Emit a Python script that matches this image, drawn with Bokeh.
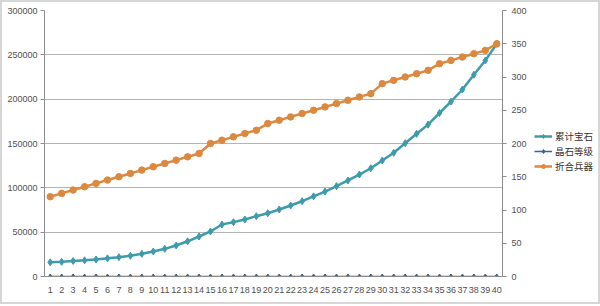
from bokeh.plotting import figure
from bokeh.models import (Range1d, LinearAxis, FixedTicker, NumeralTickFormatter,
                          Legend, LegendItem, ColumnDataSource)
from bokeh.layouts import row
from bokeh.embed import file_html
from bokeh.resources import INLINE

levels = [1, 2, 3, 4, 5, 6, 7, 8, 9, 10, 11, 12, 13, 14, 15, 16, 17, 18, 19, 20,
          21, 22, 23, 24, 25, 26, 27, 28, 29, 30, 31, 32, 33, 34, 35, 36, 37, 38, 39, 40]
gems_total = [16000, 16500, 17500, 18300, 19200, 20500, 21800, 23300, 25600, 28200,
              31200, 35000, 39700, 45100, 50800, 58600, 61300, 64300, 68000, 71400,
              75600, 80100, 84900, 90400, 95800, 101900, 108300, 115000, 122100, 130800,
              139500, 150300, 160900, 171300, 184400, 197200, 210900, 227500, 243600, 262400]
crystal_level = [1, 2, 3, 4, 5, 6, 7, 8, 9, 10, 11, 12, 13, 14, 15, 16, 17, 18, 19, 20,
                 21, 22, 23, 24, 25, 26, 27, 28, 29, 30, 31, 32, 33, 34, 35, 36, 37, 38, 39, 40]
weapons = [120, 125, 130, 135, 140, 145, 150, 155, 160, 165, 170, 175, 180, 185,
           200, 205, 210, 215, 220, 230, 235, 240, 245, 250, 255, 260, 265, 270, 275,
           290, 295, 300, 305, 310, 320, 325, 330, 335, 340, 350]
names = ["累计宝石", "晶石等级", "折合兵器"]
left_ticks = [0, 50000, 100000, 150000, 200000, 250000, 300000]
right_ticks = [0, 50, 100, 150, 200, 250, 300, 350, 400]

src = ColumnDataSource(dict(x=levels, g=gems_total, c=crystal_level, w=weapons))

TEAL = "#3e9bab"
NAVY = "#3a6494"
ORANGE = "#dc893f"
TXT = "#505050"
GRID = "#b4b4b4"
AX = "#8c8c8c"
NUMFONT = "Liberation Sans"
H = 300

p = figure(width=528, height=H, output_backend="svg", toolbar_location=None,
           x_range=Range1d(0.5, 40.5), y_range=Range1d(0, 300000),
           min_border_left=42, min_border_right=28, min_border_top=8,
           min_border_bottom=26)
p.outline_line_color = None
p.background_fill_color = "white"
p.border_fill_color = "white"

p.extra_y_ranges = {"r": Range1d(0, 400)}

# axes
p.xaxis.ticker = FixedTicker(ticks=levels)
p.xaxis.major_tick_line_color = None
p.xaxis.minor_tick_line_color = None
p.xaxis.axis_line_color = AX
p.xaxis.major_label_text_font = NUMFONT
p.xaxis.major_label_text_font_size = "9px"
p.xaxis.major_label_text_color = TXT
p.xaxis.major_label_standoff = 4

p.yaxis.ticker = FixedTicker(ticks=left_ticks)
p.yaxis.formatter = NumeralTickFormatter(format="0")
p.yaxis.minor_tick_line_color = None
p.yaxis.major_tick_out = 4
p.yaxis.major_tick_in = 0
p.yaxis.major_tick_line_color = AX
p.yaxis.axis_line_color = AX
p.yaxis.major_label_text_font = NUMFONT
p.yaxis.major_label_text_font_size = "9px"
p.yaxis.major_label_text_color = TXT
p.yaxis.major_label_standoff = 3

ry = LinearAxis(y_range_name="r", ticker=FixedTicker(ticks=right_ticks))
ry.minor_tick_line_color = None
ry.major_tick_out = 4
ry.major_tick_in = 0
ry.major_tick_line_color = AX
ry.axis_line_color = AX
ry.major_label_text_font = NUMFONT
ry.major_label_text_font_size = "9px"
ry.major_label_text_color = TXT
ry.major_label_standoff = 5
p.add_layout(ry, "right")

p.xgrid.grid_line_color = None
p.ygrid.grid_line_color = GRID
p.ygrid.grid_line_width = 1

# series
p.line("x", "g", source=src, color=TEAL, line_width=2.5)
p.scatter("x", "g", source=src, marker="diamond", size=7, color=TEAL)
p.line("x", "c", source=src, color=NAVY, line_width=1.5)
p.scatter("x", "c", source=src, marker="diamond", size=5, color=NAVY)
p.line("x", "w", source=src, color=ORANGE, line_width=2.5, y_range_name="r")
p.scatter("x", "w", source=src, marker="circle", size=6.5, color=ORANGE, y_range_name="r")

# legend panel (separate figure to the right)
lg = figure(width=68, height=H, output_backend="svg", toolbar_location=None,
            x_range=Range1d(0, 1), y_range=Range1d(0, 1),
            min_border_left=0, min_border_right=0, min_border_top=0,
            min_border_bottom=0)
lg.axis.visible = False
lg.grid.visible = False
lg.outline_line_color = None
offscreen = ColumnDataSource(dict(x=[-5, -4], y=[-5, -4]))
a1 = lg.line("x", "y", source=offscreen, color=TEAL, line_width=2.5)
b1 = lg.scatter("x", "y", source=offscreen, marker="diamond", size=7, color=TEAL)
a2 = lg.line("x", "y", source=offscreen, color=NAVY, line_width=1.5)
b2 = lg.scatter("x", "y", source=offscreen, marker="diamond", size=5, color=NAVY)
a3 = lg.line("x", "y", source=offscreen, color=ORANGE, line_width=2.5)
b3 = lg.scatter("x", "y", source=offscreen, marker="circle", size=6.5, color=ORANGE)

legend = Legend(items=[LegendItem(label=names[0], renderers=[a1, b1]),
                       LegendItem(label=names[1], renderers=[a2, b2]),
                       LegendItem(label=names[2], renderers=[a3, b3])],
                location=(4, 103))
legend.border_line_color = None
legend.background_fill_alpha = 0
legend.label_text_font = "Noto Sans CJK SC"
legend.label_text_font_size = "9.5px"
legend.label_text_color = "#333333"
legend.glyph_width = 18
legend.glyph_height = 10
legend.label_standoff = 3
legend.spacing = 1
legend.padding = 0
legend.margin = 0
legend.label_height = 11
lg.add_layout(legend)

layout = row(p, lg, styles={"border": "2px solid #d6d6d6"})
open("out.html", "w").write(file_html(layout, INLINE))
